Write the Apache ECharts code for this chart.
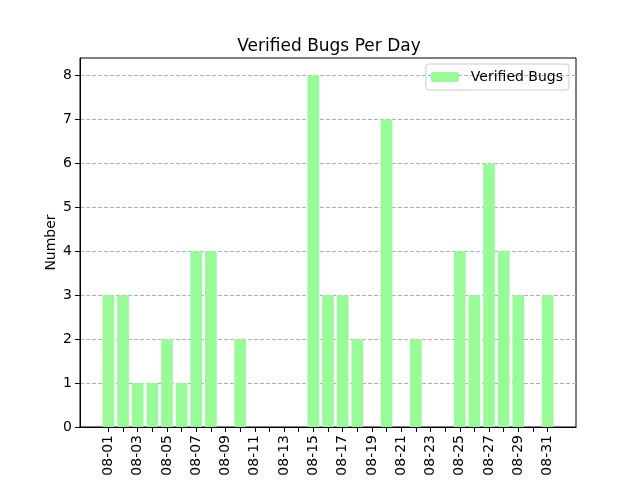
<!DOCTYPE html>
<html>
<head>
<meta charset="utf-8">
<script src="https://cdn.jsdelivr.net/npm/echarts@6/dist/echarts.min.js"></script>
<style>
  html, body { margin: 0; padding: 0; background: #fff; }
  #chart { width: 640px; height: 480px; }
</style>
</head>
<body>
<div id="chart"></div>
<script>
var days = ['08-01','08-02','08-03','08-04','08-05','08-06','08-07','08-08','08-09','08-10',
            '08-11','08-12','08-13','08-14','08-15','08-16','08-17','08-18','08-19','08-20',
            '08-21','08-22','08-23','08-24','08-25','08-26','08-27','08-28','08-29','08-30','08-31'];
var verified = [3,3,1,1,2,1,4,4,0,2, 0,0,0,0,8,3,3,2,0,7, 0,2,0,0,4,3,6,4,3,0,3];
var yTicks = [0,1,2,3,4,5,6,7,8];

var font = 'DejaVu Sans';
var tickIdx = [];
var labelIdx = [];
for (var i = 0; i < days.length; i++) {
  tickIdx.push(i);
  if (i % 2 == 0) labelIdx.push(i);
}
var barData = verified.map(function (v, i) { return [i, v]; });

var chart = echarts.init(document.getElementById('chart'));
chart.setOption({
  animation: false,
  title: {
    text: 'Verified Bugs Per Day',
    left: 324,
    textAlign: 'center',
    top: 33,
    textStyle: { fontFamily: font, fontSize: 17, fontWeight: 'normal', color: '#000' }
  },
  legend: {
    right: 71,
    top: 64,
    data: ['Verified Bugs'],
    itemWidth: 28,
    itemHeight: 10,
    padding: [6, 6, 6, 5],
    borderColor: '#ccc',
    borderWidth: 1,
    borderRadius: 3,
    textStyle: { fontFamily: font, fontSize: 14, color: '#000', padding: [0, 0, 0, 7] }
  },
  grid: {
    left: 80, right: 64, top: 58, bottom: 53,
    show: true, borderColor: '#000', borderWidth: 1
  },
  xAxis: {
    type: 'value',
    min: -1.94,
    max: 31.94,
    axisLine: { show: true, onZero: false, lineStyle: { color: '#000' } },
    axisTick: { show: true, length: 5, customValues: tickIdx, lineStyle: { color: '#000' } },
    axisLabel: {
      customValues: labelIdx,
      rotate: 90,
      margin: 8,
      fontFamily: font, fontSize: 14, color: '#000',
      formatter: function (v) { return days[Math.round(v)]; }
    },
    splitLine: { show: false }
  },
  yAxis: {
    type: 'value',
    min: 0,
    max: 8.4,
    name: 'Number',
    nameLocation: 'middle',
    nameGap: 22,
    nameMoveOverlap: false,
    nameTextStyle: { fontFamily: font, fontSize: 14, color: '#000' },
    axisLine: { show: true, onZero: false, lineStyle: { color: '#000' } },
    axisTick: { show: true, length: 5, customValues: yTicks, lineStyle: { color: '#000' } },
    axisLabel: { customValues: yTicks, margin: 8, fontFamily: font, fontSize: 14, color: '#000' },
    splitLine: { show: true, lineStyle: { color: '#b0b0b0', type: [4, 2], width: 1 } }
  },
  series: [{
    name: 'Verified Bugs',
    type: 'bar',
    data: barData,
    barWidth: 11.7,
    itemStyle: { color: '#98FB98' }
  }]
});
</script>
</body>
</html>
